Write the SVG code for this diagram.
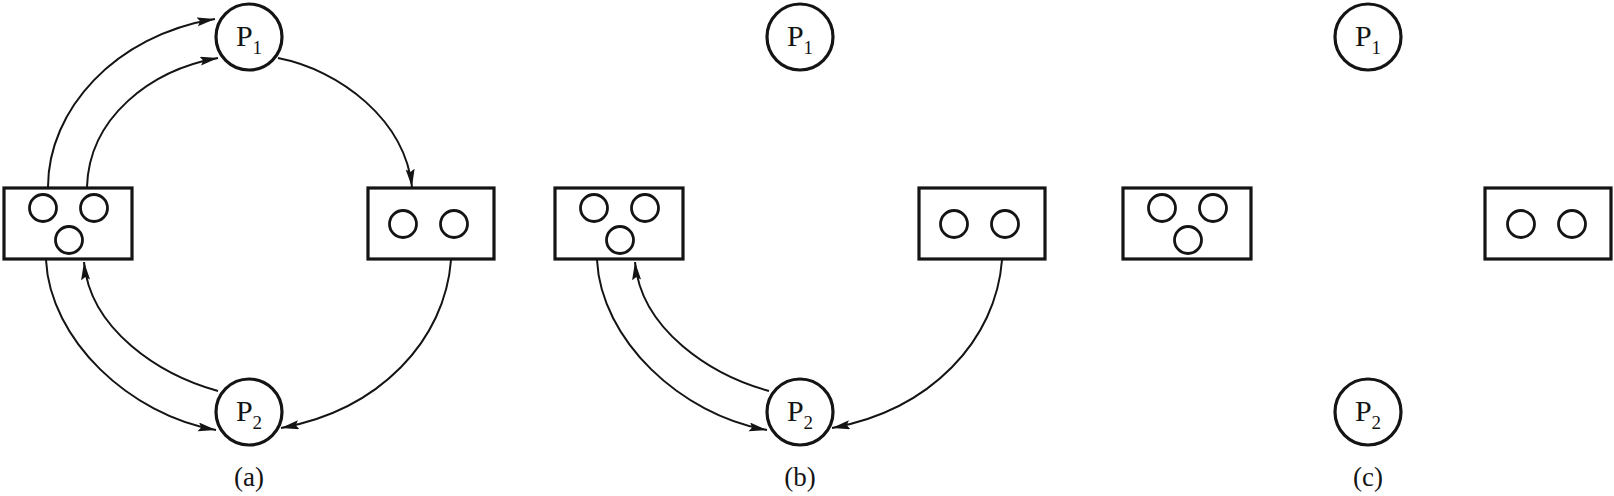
<svg xmlns="http://www.w3.org/2000/svg" width="1614" height="496" viewBox="0 0 1614 496">
<style>
.big{fill:#fff;stroke:#141414;stroke-width:3.2}
.box{fill:#fff;stroke:#141414;stroke-width:3.2}
.res{fill:none;stroke:#141414;stroke-width:2.8}
.lbl{font-family:"Liberation Serif","Times New Roman",serif;font-size:30px;fill:#141414;text-anchor:middle}
.sub{font-size:19px}
.cap{font-family:"Liberation Serif","Times New Roman",serif;font-size:27px;fill:#141414;text-anchor:middle}
.edge{fill:none;stroke:#141414;stroke-width:2;marker-end:url(#arr)}
</style>
<defs>
<marker id="arr" markerUnits="userSpaceOnUse" markerWidth="20" markerHeight="10" refX="18" refY="4.5" orient="auto">
<path d="M0,0 L18,4.5 L0,9 L3,4.5 z" fill="#141414"/>
</marker>
</defs>
<rect width="1614" height="496" fill="#fff"/>

<g id="connectors">
<!-- (a) -->
<path id="a-r1-p1-outer" class="edge" d="M48,187 C48,110 115,35 215,19"/>
<path id="a-r1-p1-inner" class="edge" d="M87,187 C89,118 150,70 218,58"/>
<path id="a-p1-r2" class="edge" d="M278,58 C340,70 405,120 412,187"/>
<path id="a-r1-p2" class="edge" d="M46,260 C50,340 130,415 216,430"/>
<path id="a-p2-r1" class="edge" d="M218,391 C160,375 90,330 84,262"/>
<path id="a-r2-p2" class="edge" d="M451,260 C445,340 380,410 281,428"/>
<!-- (b) -->
<path id="b-r1-p2" class="edge" d="M597,260 C601,340 681,415 767,430"/>
<path id="b-p2-r1" class="edge" d="M769,391 C711,375 641,330 635,262"/>
<path id="b-r2-p2" class="edge" d="M1002,260 C996,340 931,410 832,428"/>
</g>

<!-- (a) -->
<g id="a-P1"><circle class="big" cx="249" cy="37" r="33"/><text class="lbl" x="249" y="46">P<tspan class="sub" dy="8">1</tspan></text></g>
<g id="a-P2"><circle class="big" cx="249" cy="412" r="33"/><text class="lbl" x="249" y="421">P<tspan class="sub" dy="8">2</tspan></text></g>
<g id="a-R1"><rect class="box" x="4" y="188" width="128" height="71"/><circle class="res" cx="43" cy="208" r="13.5"/><circle class="res" cx="94" cy="208" r="13.5"/><circle class="res" cx="69" cy="240" r="13.5"/></g>
<g id="a-R2"><rect class="box" x="368" y="188" width="126" height="71"/><circle class="res" cx="403" cy="224" r="13.5"/><circle class="res" cx="454" cy="224" r="13.5"/></g>
<text id="a-caption" class="cap" x="249" y="486">(a)</text>

<!-- (b) -->
<g id="b-P1"><circle class="big" cx="800" cy="37" r="33"/><text class="lbl" x="800" y="46">P<tspan class="sub" dy="8">1</tspan></text></g>
<g id="b-P2"><circle class="big" cx="800" cy="412" r="33"/><text class="lbl" x="800" y="421">P<tspan class="sub" dy="8">2</tspan></text></g>
<g id="b-R1"><rect class="box" x="555" y="188" width="128" height="71"/><circle class="res" cx="594" cy="208" r="13.5"/><circle class="res" cx="645" cy="208" r="13.5"/><circle class="res" cx="620" cy="240" r="13.5"/></g>
<g id="b-R2"><rect class="box" x="919" y="188" width="126" height="71"/><circle class="res" cx="954" cy="224" r="13.5"/><circle class="res" cx="1005" cy="224" r="13.5"/></g>
<text id="b-caption" class="cap" x="800" y="486">(b)</text>

<!-- (c) -->
<g id="c-P1"><circle class="big" cx="1368" cy="37" r="33"/><text class="lbl" x="1368" y="46">P<tspan class="sub" dy="8">1</tspan></text></g>
<g id="c-P2"><circle class="big" cx="1368" cy="412" r="33"/><text class="lbl" x="1368" y="421">P<tspan class="sub" dy="8">2</tspan></text></g>
<g id="c-R1"><rect class="box" x="1123" y="188" width="128" height="71"/><circle class="res" cx="1162" cy="208" r="13.5"/><circle class="res" cx="1213" cy="208" r="13.5"/><circle class="res" cx="1188" cy="240" r="13.5"/></g>
<g id="c-R2"><rect class="box" x="1485" y="188" width="126" height="71"/><circle class="res" cx="1521" cy="224" r="13.5"/><circle class="res" cx="1572" cy="224" r="13.5"/></g>
<text id="c-caption" class="cap" x="1368" y="486">(c)</text>
</svg>
